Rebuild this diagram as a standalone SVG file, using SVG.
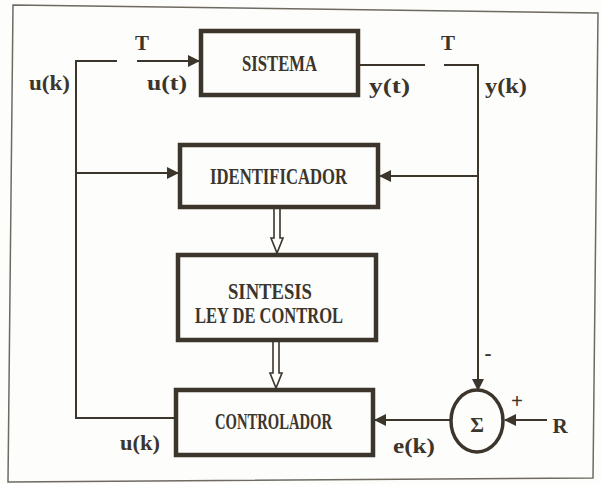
<svg xmlns="http://www.w3.org/2000/svg" width="601" height="484" viewBox="0 0 601 484">
<style>
.bg{fill:#fdfdfb}
.frame{fill:none;stroke:#6e6a62;stroke-width:1.5}
.box{fill:#fdfdfb;stroke:#3b352c;stroke-width:4.5}
.ln{fill:none;stroke:#3b352c;stroke-width:2}
.hol{fill:#fdfdfb;stroke:#3b352c;stroke-width:1.6;stroke-linejoin:miter}
.t{font-family:"Liberation Serif","Times New Roman",serif;font-weight:bold;fill:#3b352c;font-size:24px}
.l{font-family:"Liberation Serif","Times New Roman",serif;font-weight:bold;fill:#3b352c;font-size:21px}
</style>
<defs>
<marker id="ah" viewBox="0 0 12 12" refX="11" refY="6" markerWidth="12" markerHeight="12" markerUnits="userSpaceOnUse" orient="auto">
<path d="M0,0 L12,6 L0,12 Z" fill="#3b352c"/>
</marker>
</defs>
<rect class="bg" x="0" y="0" width="601" height="484"/>
<polygon class="frame" points="13,5 598,13 593,478 8,482"/>

<g id="connectors">
<path class="ln" d="M117,61 H76 V418 H176"/>
<path class="ln" d="M137,61 H199" marker-end="url(#ah)"/>
<path class="ln" d="M76,173 H178" marker-end="url(#ah)"/>
<path class="ln" d="M358,65 H425"/>
<path class="ln" d="M444,65 H478 V176"/>
<path class="ln" d="M478,176 H380" marker-end="url(#ah)"/>
<path class="ln" d="M478,176 V390" marker-end="url(#ah)"/>
<path class="ln" d="M547,420 H505" marker-end="url(#ah)"/>
<path class="ln" d="M450,420 H375" marker-end="url(#ah)"/>
<path class="hol" d="M274,209 V238 H271 L277,253 L283,238 H280 V209"/>
<path class="hol" d="M273,342 V373 H270 L276,388 L282,373 H279 V342"/>
</g>

<g id="sistema">
<rect class="box" x="201" y="31" width="157" height="64"/>
<text class="t" x="242" y="71" textLength="75" lengthAdjust="spacingAndGlyphs">SISTEMA</text>
</g>
<g id="identificador">
<rect class="box" x="180" y="145" width="198" height="62"/>
<text class="t" x="210" y="184" textLength="137" lengthAdjust="spacingAndGlyphs">IDENTIFICADOR</text>
</g>
<g id="sintesis">
<rect class="box" x="178" y="255" width="198" height="85"/>
<text class="t" x="228" y="299" textLength="84" lengthAdjust="spacingAndGlyphs">SINTESIS</text>
<text class="t" x="195" y="323" textLength="148" lengthAdjust="spacingAndGlyphs">LEY DE CONTROL</text>
</g>
<g id="controlador">
<rect class="box" x="176" y="390" width="197" height="65"/>
<text class="t" x="215" y="429" textLength="117" lengthAdjust="spacingAndGlyphs">CONTROLADOR</text>
</g>
<g id="sum">
<ellipse cx="477" cy="421" rx="26" ry="31" fill="#fdfdfb" stroke="#3b352c" stroke-width="3.5"/>
<text class="l" x="477" y="432" text-anchor="middle" font-size="21">Σ</text>
</g>

<g id="labels">
<text class="l" x="142" y="50" text-anchor="middle">T</text>
<text class="l" x="448" y="50" text-anchor="middle">T</text>
<text class="l" x="29" y="90" textLength="41" lengthAdjust="spacingAndGlyphs">u(k)</text>
<text class="l" x="147" y="90" textLength="40" lengthAdjust="spacingAndGlyphs">u(t)</text>
<text class="l" x="369" y="93" textLength="41" lengthAdjust="spacingAndGlyphs">y(t)</text>
<text class="l" x="485" y="93" textLength="42" lengthAdjust="spacingAndGlyphs">y(k)</text>
<text class="l" x="120" y="450" textLength="40" lengthAdjust="spacingAndGlyphs">u(k)</text>
<text class="l" x="393" y="453" textLength="42" lengthAdjust="spacingAndGlyphs">e(k)</text>
<text class="l" x="560" y="433" text-anchor="middle">R</text>
<text class="l" x="517" y="408" text-anchor="middle" font-size="16">+</text>
<text class="l" x="488" y="360" text-anchor="middle" font-size="16">-</text>
</g>
</svg>
